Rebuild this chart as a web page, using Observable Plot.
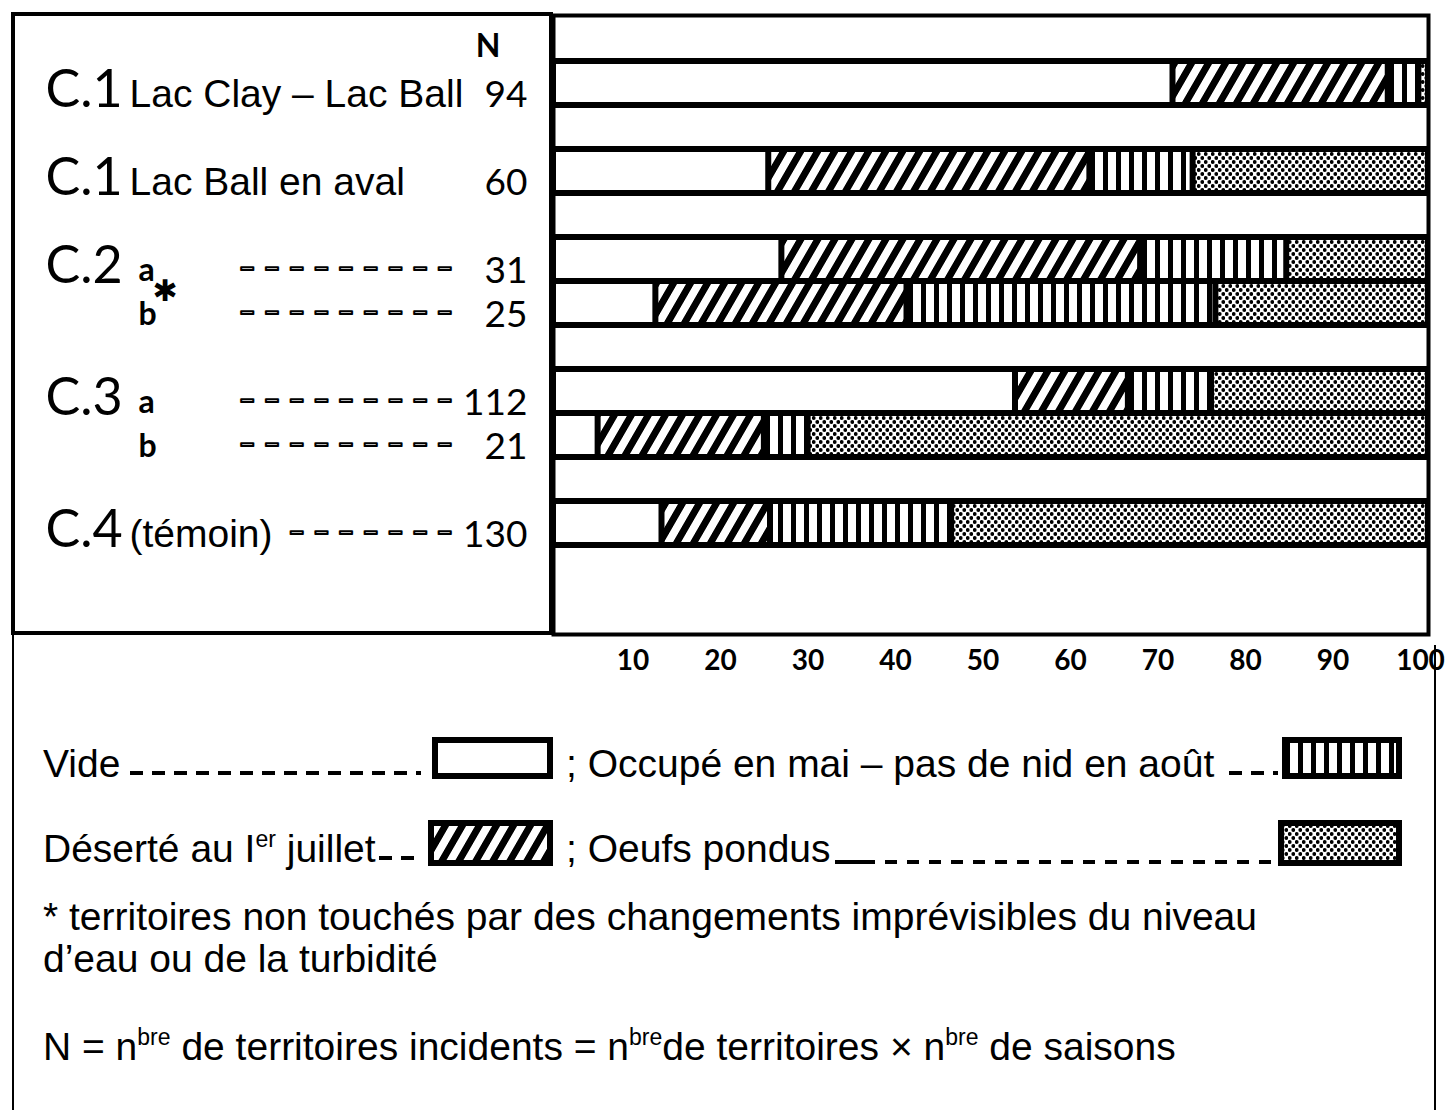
<!DOCTYPE html>
<html>
<head>
<meta charset="utf-8">
<script src="https://cdn.jsdelivr.net/npm/d3@7"></script>
<script src="https://cdn.jsdelivr.net/npm/@observablehq/plot@0.6"></script>
<style>
  html, body { margin: 0; padding: 0; background: #fff; }
  #wrap { position: relative; width: 1449px; height: 1110px; overflow: hidden; background: #fff; }
  #chart { position: absolute; left: 0; top: 0; }
  #overlay { position: absolute; left: 0; top: 0; }
</style>
</head>
<body>
<div id="wrap">
  <div id="chart"></div>
  <svg id="overlay" width="1449" height="1110" xmlns="http://www.w3.org/2000/svg"></svg>
</div>
<script>
// ---------------- DATA ----------------
const rowKeys = ["C1-Clay", "C1-Ball", "C2a", "C2b", "C3a", "C3b", "C4"];
const codes   = ["C.1", "C.1", "C.2", "", "C.3", "", "C.4"];
const sites   = ["Lac Clay – Lac Ball", "Lac Ball en aval", "", "", "", "", "(témoin)"];
const subs    = ["", "", "a", "b", "a", "b", ""];
const stars   = ["", "", "", "✱", "", "", ""];
const leaders = ["", "", "– – – – – – – – –", "– – – – – – – – –", "– – – – – – – – –", "– – – – – – – – –", "– – – – – – –"];
const nValues = [94, 60, 31, 25, 112, 21, 130];

const categories = ["Vide", "Déserté au 1er juillet", "Occupé en mai – pas de nid en août", "Oeufs pondus"];
const vide    = [70.8, 24.6, 26.1, 11.7, 52.8,  5.1, 12.4];
const deserte = [24.6, 36.7, 41.0, 28.7, 12.9, 19.0, 12.4];
const occupe  = [ 3.5, 11.8, 16.7, 35.3,  9.5,  5.0, 20.7];
const oeufs   = [ 1.1, 26.9, 16.2, 24.3, 24.8, 70.9, 54.5];
const xTicks  = [10, 20, 30, 40, 50, 60, 70, 80, 90, 100];

// ---------------- PATTERNS ----------------
const ov = d3.select("#overlay");
const defs = ov.append("defs");
const patHatch = defs.append("pattern").attr("id", "pat-hatch").attr("patternUnits", "userSpaceOnUse")
  .attr("width", 17).attr("height", 17).attr("patternTransform", "skewX(-30)");
patHatch.append("rect").attr("width", 17).attr("height", 17).attr("fill", "white");
patHatch.append("rect").attr("width", 8).attr("height", 17).attr("fill", "black");
const patVert = defs.append("pattern").attr("id", "pat-vert").attr("patternUnits", "userSpaceOnUse")
  .attr("width", 13).attr("height", 10);
patVert.append("rect").attr("width", 13).attr("height", 10).attr("fill", "black");
patVert.append("rect").attr("x", 3).attr("width", 8).attr("height", 10).attr("fill", "white");
const patDot = defs.append("pattern").attr("id", "pat-dot").attr("patternUnits", "userSpaceOnUse")
  .attr("width", 7).attr("height", 8);
patDot.append("rect").attr("width", 7).attr("height", 8).attr("fill", "white");
patDot.append("circle").attr("cx", 1.75).attr("cy", 2).attr("r", 1.9).attr("fill", "black");
patDot.append("circle").attr("cx", 5.25).attr("cy", 6).attr("r", 1.9).attr("fill", "black");
const patternFills = ["white", "url(#pat-hatch)", "url(#pat-vert)", "url(#pat-dot)"];

// ---------------- TABLES ----------------
const series = [vide, deserte, occupe, oeufs];
const rowsTbl = rowKeys.map((k, i) => ({
  key: k, code: codes[i], site: sites[i], sub: subs[i], star: stars[i], leader: leaders[i],
  n: String(nValues[i]), total: series.reduce((s, a) => s + a[i], 0)
}));
const long = rowKeys.flatMap((k, i) => categories.map((c, j) => ({key: k, cat: c, value: series[j][i]})));

// y domain: a blank slot before each group, two at the end
const slots = [];
let g = 0;
rowKeys.forEach((k, i) => { if (codes[i] !== "") slots.push("gap" + (g++)); slots.push(k); });
slots.push("gap" + (g++), "gap" + (g++));

const chart = Plot.plot({
  width: 1449, height: 700,
  marginLeft: 553, marginRight: 21, marginTop: 15, marginBottom: 66,
  style: {fontFamily: "'Liberation Sans', Arial, sans-serif", background: "transparent", color: "black"},
  x: {domain: [0, 100]},
  y: {domain: slots, padding: 0, axis: null},
  color: {domain: categories, range: patternFills},
  marks: [
    Plot.barX(rowsTbl, {x: "total", y: "key", fill: "black", insetTop: -3, insetBottom: -3}),
    Plot.barX(long, Plot.stackX({x: "value", y: "key", fill: "cat", insetTop: 3, insetBottom: 3, insetLeft: 3, insetRight: 3})),
    Plot.frame({stroke: "black", strokeWidth: 4}),
    Plot.axisX(xTicks, {anchor: "bottom", tickSize: 0, tickPadding: 16, dx: -8, fontSize: 28, fontWeight: "bold", fontFamily: "Lato, sans-serif", label: null}),
    Plot.text(rowsTbl, {y: "key", text: "code", frameAnchor: "left", textAnchor: "start", dx: -508, dy: 7, fontSize: 52, fontFamily: "Lato, sans-serif"}),
    Plot.text(rowsTbl, {y: "key", text: "site", frameAnchor: "left", textAnchor: "start", dx: -424, dy: 11, fontSize: 39}),
    Plot.text(rowsTbl, {y: "key", text: "sub", frameAnchor: "left", textAnchor: "start", dx: -415, dy: 11, fontSize: 32, fontWeight: "bold", fontFamily: "Lato, sans-serif"}),
    Plot.text(rowsTbl, {y: "key", text: "star", frameAnchor: "left", textAnchor: "start", dx: -401, dy: -12, fontSize: 30, fontWeight: "bold", fontFamily: "'DejaVu Sans', sans-serif"}),
    Plot.text(rowsTbl, {y: "key", text: "leader", frameAnchor: "left", textAnchor: "end", dx: -100, dy: 9, fontSize: 30, fontWeight: "bold", fontFamily: "Lato, sans-serif", stroke: "black", strokeWidth: 2}),
    Plot.text(rowsTbl, {y: "key", text: "n", frameAnchor: "left", textAnchor: "end", dx: -26, dy: 12, fontSize: 37, fontFamily: "Lato, sans-serif"})
  ]
});
document.getElementById("chart").appendChild(chart);

// ---------------- FRAMES, HEADER, LEGEND ----------------
ov.append("rect").attr("x", 13).attr("y", 14).attr("width", 538).attr("height", 619)
  .attr("fill", "none").attr("stroke", "black").attr("stroke-width", 4);
ov.append("line").attr("x1", 13).attr("x2", 13).attr("y1", 633).attr("y2", 1110).attr("stroke", "black").attr("stroke-width", 2);
ov.append("line").attr("x1", 1435).attr("x2", 1435).attr("y1", 645).attr("y2", 1110).attr("stroke", "black").attr("stroke-width", 2);
ov.append("text").attr("x", 488).attr("y", 57).attr("text-anchor", "middle")
  .attr("font-family", "Lato, sans-serif").attr("font-weight", "bold").attr("font-size", 32).text("N");

const lf = "'Liberation Sans', Arial, sans-serif";
function txt(x, y, parts) {
  const t = ov.append("text").attr("x", x).attr("y", y).attr("font-family", lf).attr("font-size", 39);
  let pending = 0;
  parts.forEach(p => {
    if (typeof p === "string") {
      t.append("tspan").attr("dy", pending).text(p);
      pending = 0;
    } else {
      t.append("tspan").attr("font-size", 23).attr("dy", -15).text(p.sup);
      pending = 15;
    }
  });
  return t;
}
function dashes(x1, x2, y, solidFirst) {
  ov.append("line").attr("x1", x1).attr("x2", x2).attr("y1", y).attr("y2", y)
    .attr("stroke", "black").attr("stroke-width", 4)
    .attr("stroke-dasharray", solidFirst ? "40 10" + " 12 10".repeat(25) : "13 9");
}
function swatch(x, y, w, h, fill) {
  ov.append("rect").attr("x", x).attr("y", y).attr("width", w).attr("height", h)
    .attr("fill", fill).attr("stroke", "black").attr("stroke-width", 6);
}
// line 1
txt(43, 777, ["Vide"]);
dashes(130, 421, 773);
swatch(435, 740, 115, 36, patternFills[0]);
txt(566, 777, ["; Occupé en mai – pas de nid en août"]);
dashes(1229, 1278, 773);
swatch(1285, 740, 114, 36, patternFills[2]);
// line 2
txt(43, 862, ["Déserté au I", {sup: "er"}, " juillet"]);
dashes(379, 421, 858);
swatch(431, 823, 119, 40, patternFills[1]);
txt(566, 862, ["; Oeufs pondus"]);
dashes(835, 1278, 862, true);
swatch(1281, 823, 118, 40, patternFills[3]);
// notes
txt(43, 930, ["* territoires non touchés par des changements imprévisibles du niveau"]);
txt(43, 972, ["d’eau ou de la turbidité"]);
txt(43, 1060, ["N = n", {sup: "bre"}, " de territoires incidents = n", {sup: "bre"}, "de territoires × n", {sup: "bre"}, " de saisons"]);
</script>
</body>
</html>
